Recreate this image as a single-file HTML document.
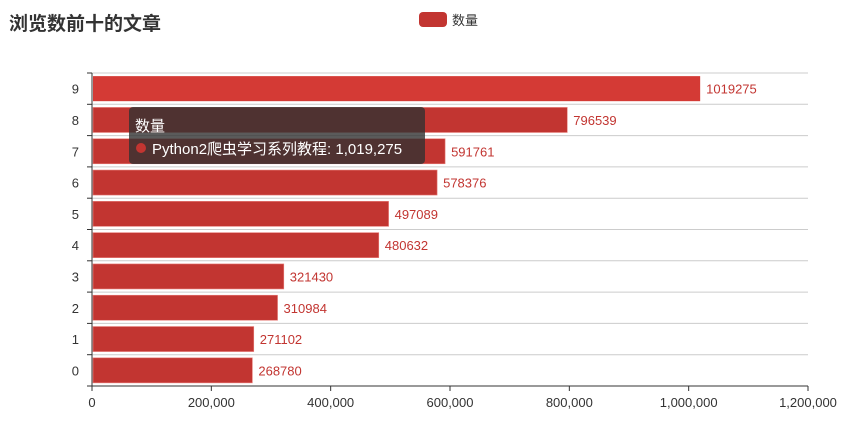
<!DOCTYPE html>
<html><head><meta charset="utf-8"><style>
body{margin:0;background:#fff;}
svg text{font-family:"Liberation Sans","Noto Sans CJK SC",sans-serif;}
</style></head><body>
<svg id="c" width="849" height="424" xmlns="http://www.w3.org/2000/svg">
<text x="9" y="30" font-size="19" font-weight="bold" fill="#333">浏览数前十的文章</text>
<g>
<rect x="419" y="12" width="28" height="15" rx="4" fill="#c23531"/>
<text x="452" y="25" font-size="13" fill="#333">数量</text>
</g>
<g id="grid"></g><g id="bars"></g><g id="axes"></g>
<g>
<rect x="129" y="107" width="296" height="57" rx="4" fill="rgba(50,50,50,0.8)"/>
<text x="135" y="131" font-size="15" fill="#fff">数量</text>
<circle cx="141" cy="148" r="5" fill="#c23531"/>
<text x="152" y="154" font-size="15" fill="#fff">Python2爬虫学习系列教程: 1,019,275</text>
</g>
</svg>
<script>
const categories=["0","1","2","3","4","5","6","7","8","9"];
const values=[268780,271102,310984,321430,480632,497089,578376,591761,796539,1019275];
const xTicks=[0,200000,400000,600000,800000,1000000,1200000];
const xMax=1200000;
const L=92,R=808,T=73,B=386;
const ns="http://www.w3.org/2000/svg";
function mk(t,a,p){const e=document.createElementNS(ns,t);for(const k in a)e.setAttribute(k,a[k]);p.appendChild(e);return e;}
const xs=v=>L+(v/xMax)*(R-L);
const band=(B-T)/categories.length;
const ys=i=>B-(i+1)*band;
const grid=document.getElementById('grid'),bars=document.getElementById('bars'),axes=document.getElementById('axes');
for(let i=0;i<=categories.length;i++){const y=B-i*band;
 const g=mk('line',{x1:L,x2:R,y1:y,y2:y,stroke:'#ccc','stroke-width':1},grid);
 
 
 const t=mk('line',{x1:L-5,x2:L,y1:y,y2:y,stroke:'#333'},axes);
 
 }
categories.forEach((c,i)=>{
 const y0=ys(i)+band*0.1,h=band*0.8;
 const hi=i===9;
 const r=mk('rect',{x:L+1,y:y0,width:xs(values[i])-L-1,height:h,fill:hi?'#d43a35':'#c23531',stroke:hi?'none':'#e8807c','stroke-width':hi?0:0.6},bars);
 
 
 const lb=mk('text',{x:xs(values[i])+6,y:y0+h/2+5,'font-size':13,fill:'#c23531'},bars);
 lb.textContent=values[i];
 
 
 const cl=mk('text',{x:L-13,y:ys(i)+band/2+5,'font-size':13,fill:'#333','text-anchor':'end'},axes);
 cl.textContent=c;
 
 
});
mk('line',{x1:L,x2:L,y1:T,y2:B,stroke:'#333'},axes);
mk('line',{x1:L,x2:R,y1:B,y2:B,stroke:'#333'},axes);
xTicks.forEach(v=>{const x=xs(v);
 mk('line',{x1:x,x2:x,y1:B,y2:B+5,stroke:'#333'},axes);
 const t=mk('text',{x:x,y:B+21,'font-size':13,fill:'#333','text-anchor':'middle'},axes);
 t.textContent=v.toLocaleString('en-US');
 
 });
</script>
</body></html>
